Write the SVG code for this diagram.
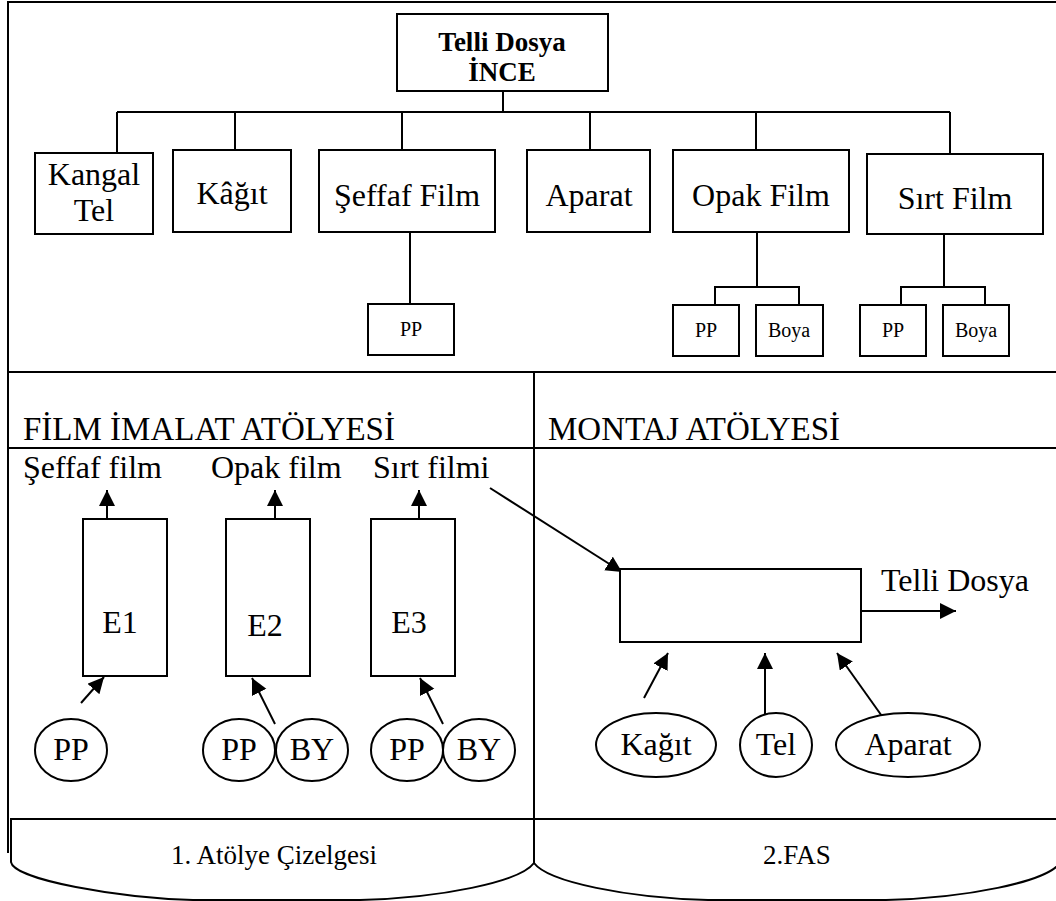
<svg xmlns="http://www.w3.org/2000/svg" width="1056" height="901" viewBox="0 0 1056 901">
<style>
.box{fill:#fff;stroke:#000;stroke-width:2}
.ln{fill:none;stroke:#000;stroke-width:2}
.ar{fill:none;stroke:#000;stroke-width:2;marker-end:url(#ah)}
text{font-family:"Liberation Serif","Times New Roman",serif;fill:#000}
.t31{font-size:32px}
.t33{font-size:33px}
.t26{font-size:27px}
.t19{font-size:20px}
.c{text-anchor:middle}
.b{font-weight:bold;font-size:27px}
</style>
<defs>
<marker id="ah" markerUnits="userSpaceOnUse" markerWidth="17" markerHeight="17" refX="16" refY="8" orient="auto">
<path d="M0,0 L16,8 L0,16 Z" fill="#000"/>
</marker>
</defs>
<rect width="1056" height="901" fill="#fff"/>
<g id="frame">
<path class="ln" d="M8,853 L8,2 L1058,2"/>
<line class="ln" x1="8" y1="372" x2="1058" y2="372"/>
<line class="ln" x1="8" y1="448" x2="1058" y2="448"/>
<line class="ln" x1="534" y1="372" x2="534" y2="819"/>
</g>
<g id="connectors">
<path class="ln" d="M503,91 V112 M117,112 H950 M117,112 V153 M235,112 V150 M402,112 V150 M590,112 V150 M756,112 V150 M950,112 V154"/>
<path class="ln" d="M410,232 V304"/>
<path class="ln" d="M757,232 V287 M715,305 V287 H799 V305"/>
<path class="ln" d="M944,234 V287 M901,305 V287 H985 V305"/>
<line class="ar" x1="107" y1="531" x2="107" y2="490"/>
<line class="ar" x1="275" y1="531" x2="275" y2="490"/>
<line class="ar" x1="419" y1="531" x2="419" y2="490"/>
<line class="ar" x1="81" y1="703" x2="104" y2="677"/>
<line class="ar" x1="275" y1="724" x2="252" y2="678"/>
<line class="ar" x1="443" y1="724" x2="420" y2="678"/>
<line class="ar" x1="490" y1="488" x2="622" y2="572"/>
<line class="ar" x1="861" y1="611" x2="956" y2="611"/>
<line class="ar" x1="644" y1="698" x2="668" y2="653"/>
<line class="ar" x1="765" y1="719" x2="765" y2="653"/>
<line class="ar" x1="884" y1="719" x2="837" y2="653"/>
</g>
<g id="title"><rect class="box" x="397" y="14" width="211" height="77"/><text class="b c" x="502" y="51">Telli Dosya</text><text class="b c" x="502" y="81">İNCE</text></g>
<g id="kangal"><rect class="box" x="35" y="153" width="118" height="81"/><text class="t31 c" x="94" y="185">Kangal</text><text class="t31 c" x="94" y="221">Tel</text></g>
<g id="kagit"><rect class="box" x="173" y="150" width="118" height="82"/><text class="t31 c" x="232" y="204">Kâğıt</text></g>
<g id="seffaf"><rect class="box" x="319" y="150" width="176" height="82"/><text class="t31 c" x="407" y="206">Şeffaf Film</text></g>
<g id="aparat"><rect class="box" x="527" y="150" width="123" height="82"/><text class="t31 c" x="589" y="206">Aparat</text></g>
<g id="opak"><rect class="box" x="673" y="150" width="176" height="82"/><text class="t31 c" x="761" y="206">Opak Film</text></g>
<g id="sirt"><rect class="box" x="867" y="154" width="176" height="80"/><text class="t31 c" x="955" y="209">Sırt Film</text></g>
<g id="seffaf-pp"><rect class="box" x="368" y="304" width="86" height="51"/><text class="t19 c" x="411" y="336">PP</text></g>
<g id="opak-pp"><rect class="box" x="673" y="305" width="66" height="51"/><text class="t19 c" x="706" y="337">PP</text></g>
<g id="opak-boya"><rect class="box" x="756" y="305" width="67" height="51"/><text class="t19 c" x="789" y="337">Boya</text></g>
<g id="sirt-pp"><rect class="box" x="860" y="305" width="66" height="51"/><text class="t19 c" x="893" y="337">PP</text></g>
<g id="sirt-boya"><rect class="box" x="943" y="305" width="66" height="51"/><text class="t19 c" x="976" y="337">Boya</text></g>
<g id="headings">
<text class="t33" x="23" y="440">FİLM İMALAT ATÖLYESİ</text>
<text class="t33" x="548" y="440">MONTAJ ATÖLYESİ</text>
<text class="t31" x="23" y="478">Şeffaf film</text>
<text class="t31" x="211" y="478">Opak film</text>
<text class="t31" x="373" y="478">Sırt filmi</text>
<text class="t31" x="881" y="591">Telli Dosya</text>
</g>
<g id="e1"><rect class="box" x="83" y="519" width="84" height="157"/><text class="t31 c" x="120" y="633">E1</text></g>
<g id="e2"><rect class="box" x="226" y="519" width="84" height="157"/><text class="t31 c" x="265" y="636">E2</text></g>
<g id="e3"><rect class="box" x="371" y="519" width="84" height="157"/><text class="t31 c" x="409" y="633">E3</text></g>
<g id="pp1"><ellipse class="box" cx="71" cy="750" rx="36" ry="31"/><text class="t31 c" x="71" y="760">PP</text></g>
<g id="pp2"><ellipse class="box" cx="239" cy="750" rx="36" ry="31"/><text class="t31 c" x="239" y="760">PP</text></g>
<g id="by2"><ellipse class="box" cx="312" cy="750" rx="36" ry="31"/><text class="t31 c" x="312" y="760">BY</text></g>
<g id="pp3"><ellipse class="box" cx="407" cy="750" rx="36" ry="31"/><text class="t31 c" x="407" y="760">PP</text></g>
<g id="by3"><ellipse class="box" cx="479" cy="750" rx="36" ry="31"/><text class="t31 c" x="479" y="760">BY</text></g>
<g id="montaj"><rect class="box" x="620" y="569" width="241" height="73"/></g>
<g id="kagit-in"><ellipse class="box" cx="656" cy="745" rx="60" ry="32"/><text class="t31 c" x="656" y="755">Kağıt</text></g>
<g id="tel-in"><ellipse class="box" cx="776" cy="745" rx="36" ry="32"/><text class="t31 c" x="776" y="755">Tel</text></g>
<g id="aparat-in"><ellipse class="box" cx="908" cy="745" rx="72" ry="32"/><text class="t31 c" x="908" y="755">Aparat</text></g>
<g id="atolye1"><path class="box" d="M11,819 L11,862 C14,880 120,898 193,900 L360,900 C440,898 520,882 534,863 L534,819 Z"/><text class="t26 c" x="274" y="864">1. Atölye Çizelgesi</text></g>
<g id="fas2"><path class="box" d="M534,819 L534,863 C548,882 628,898 708,900 L886,900 C966,898 1046,882 1060,863 L1060,819 Z"/><text class="t26 c" x="797" y="864">2.FAS</text></g>
</svg>
